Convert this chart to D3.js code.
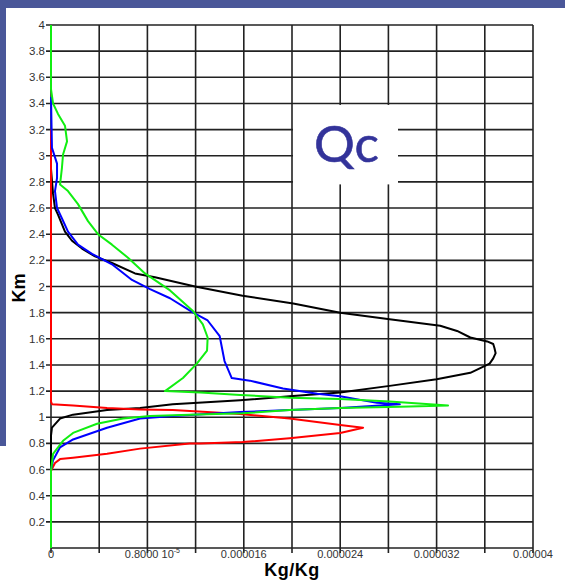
<!DOCTYPE html>
<meta charset="utf-8">
<script src="https://cdnjs.cloudflare.com/ajax/libs/d3/7.3.0/d3.min.js"></script>
<style>
  body { margin: 0; background: #fff; }
</style>
<div id="chart"></div>
<script>
    // values: [mixing ratio in 10^-6 Kg/Kg, height in km]
    const kmLabels = ["0.2", "0.4", "0.6", "0.8", "1", "1.2", "1.4", "1.6", "1.8", "2",
        "2.2", "2.4", "2.6", "2.8", "3", "3.2", "3.4", "3.6", "3.8", "4"];
    const xGrid = [0, 4, 8, 12, 16, 20, 24, 28, 32, 36, 40];
    const xLabelVals = [0, 8, 16, 24, 32, 40];
    const xLabels = ["0", "0.8000 10", "0.000016", "0.000024", "0.000032", "0.00004"];

    const blackQc = [[0, 0], [0, 0.6], [0, 0.86], [0.08, 0.92], [0.75, 0.99], [1.83, 1.02], [4.65, 1.055],
        [7.39, 1.07], [10.1, 1.10], [15.7, 1.13], [19.8, 1.16], [24.0, 1.19], [28.1, 1.24], [32.0, 1.29],
        [34.8, 1.34], [36.4, 1.41], [36.7, 1.45], [36.9, 1.49], [36.8, 1.53], [36.7, 1.56], [36.2, 1.58],
        [34.8, 1.61], [33.7, 1.66], [32.3, 1.70], [28.1, 1.75], [24.0, 1.80], [20.1, 1.87], [15.9, 1.93],
        [11.95, 2.00], [8.63, 2.07], [6.97, 2.10], [5.06, 2.18], [3.65, 2.23], [2.57, 2.29], [1.74, 2.35],
        [1.16, 2.42], [0.58, 2.55], [0.33, 2.60], [0.17, 2.71], [0.08, 2.81], [0, 2.90]];

    const redQc = [[0, 0.45], [0, 0.59], [0.33, 0.65], [0.75, 0.68], [1.83, 0.69], [4.65, 0.72], [7.39, 0.76],
        [11.5, 0.80], [12.4, 0.80], [15.9, 0.81], [19.8, 0.84], [24.0, 0.88], [25.9, 0.92], [24.0, 0.94],
        [19.8, 0.99], [15.7, 1.025], [12.95, 1.04], [10.1, 1.055], [7.39, 1.06], [4.65, 1.07], [1.83, 1.09],
        [0.08, 1.10], [0, 1.12], [0, 3.2]];

    const blueQc = [[0, 0], [0, 0.6], [0.17, 0.67], [0.75, 0.77], [1.83, 0.83], [4.65, 0.92], [7.39, 0.99],
        [10.1, 1.01], [15.7, 1.04], [19.8, 1.055], [24.0, 1.07], [28.95, 1.10], [27.05, 1.11], [24.0, 1.16],
        [22.1, 1.18], [19.25, 1.22], [16.5, 1.28], [15.0, 1.30], [14.4, 1.43], [14.0, 1.62], [13.0, 1.74],
        [11.8, 1.80], [9.88, 1.91], [8.22, 1.98], [6.72, 2.05], [5.06, 2.17], [3.4, 2.25], [2.24, 2.32],
        [1.41, 2.42], [0.91, 2.52], [0.5, 2.60], [0.33, 2.73], [0.5, 2.83], [0.5, 2.94], [0.08, 3.06], [0, 3.45]];

    const greenQc = [[0, 0], [0, 0.59], [0.17, 0.72], [1.0, 0.82], [1.83, 0.88], [3.82, 0.95], [5.98, 0.99],
        [8.22, 1.01], [11.5, 1.02], [15.9, 1.03], [19.8, 1.055], [24.0, 1.07], [28.95, 1.08], [32.95, 1.09],
        [28.1, 1.12], [24.0, 1.14], [19.8, 1.15], [15.7, 1.17], [12.4, 1.19], [9.46, 1.20], [10.95, 1.30],
        [12.1, 1.41], [12.95, 1.51], [13.0, 1.61], [12.6, 1.71], [11.8, 1.81], [9.88, 1.97], [7.8, 2.10],
        [6.39, 2.22], [5.06, 2.32], [3.9, 2.40], [3.07, 2.50], [2.24, 2.63], [1.41, 2.73], [0.75, 2.78],
        [0.91, 2.91], [1.0, 3.01], [1.33, 3.11], [1.16, 3.23], [0.58, 3.32], [0.17, 3.40], [0, 3.51], [0, 4]];

    const series = [
        { data: blackQc, color: "#000000" },
        { data: redQc, color: "#ff0000" },
        { data: blueQc, color: "#0000ff" },
        { data: greenQc, color: "#11ee11" }
    ];

    var W = 565, H = 583;
    var svg = d3.select("#chart").append("svg")
        .attr("width", W).attr("height", H);

    // slide frame
    svg.append("rect").attr("x", 0).attr("y", 0).attr("width", W).attr("height", 8).attr("fill", "#4a5799");
    svg.append("rect").attr("x", 0).attr("y", 0).attr("width", 6).attr("height", 446).attr("fill", "#4a5799");

    var x = d3.scaleLinear().domain([0, 40]).range([51, 533]);
    var y = d3.scaleLinear().domain([0, 4]).range([548, 25]);

    var grid = svg.append("g").attr("stroke", "#222").attr("stroke-width", 1.6);

    // horizontal grid + left ticks
    grid.selectAll("line.h")
        .data([0].concat(kmLabels.map(Number)))
        .join("line")
        .attr("x1", d => d === 0 ? x(0) : x(0) - 5)
        .attr("x2", x(40))
        .attr("y1", d => y(d)).attr("y2", d => y(d));

    // vertical grid + bottom ticks
    grid.selectAll("line.v")
        .data(xGrid)
        .join("line")
        .attr("x1", d => x(d)).attr("x2", d => x(d))
        .attr("y1", y(4)).attr("y2", y(0) + 5);

    // white box for the title
    svg.append("rect")
        .attr("x", x(20) + 1).attr("y", y(3.4) + 1.5)
        .attr("width", 105).attr("height", y(2.8) - y(3.4) + 1)
        .attr("fill", "#fff");

    svg.append("text")
        .attr("x", 314).attr("y", 162)
        .attr("font-family", "Lato")
        .attr("font-size", 51)
        .attr("fill", "#33339a")
        .attr("stroke", "#33339a").attr("stroke-width", 0.6)
        .text("Qc");

    // y labels
    svg.selectAll("text.yl")
        .data(kmLabels)
        .join("text")
        .attr("x", 45)
        .attr("y", d => y(+d) + 4)
        .attr("text-anchor", "end")
        .attr("font-family", "Liberation Sans")
        .attr("font-size", 11.5)
        .attr("fill", "#333")
        .text(d => d);

    // x labels
    var xl = svg.selectAll("text.xl")
        .data(xLabelVals)
        .join("text")
        .attr("x", d => x(d) + (d === 8 ? 5 : 0))
        .attr("y", 558)
        .attr("text-anchor", "middle")
        .attr("font-family", "Liberation Sans")
        .attr("font-size", 11)
        .attr("fill", "#333")
        .text((d, i) => xLabels[i]);
    xl.filter(d => d === 8).append("tspan")
        .attr("dy", -5).attr("font-size", 7).text("-5");

    // axis titles
    svg.append("text")
        .attr("transform", "translate(25,288) rotate(-90)")
        .attr("text-anchor", "middle")
        .attr("font-family", "Liberation Sans")
        .attr("font-weight", "bold")
        .attr("font-size", 18)
        .attr("fill", "#000")
        .text("Km");

    svg.append("text")
        .attr("x", 292).attr("y", 576)
        .attr("text-anchor", "middle")
        .attr("font-family", "Liberation Sans")
        .attr("font-weight", "bold")
        .attr("font-size", 18)
        .attr("letter-spacing", 0.5)
        .attr("fill", "#000")
        .text("Kg/Kg");

    var line = d3.line()
        .x(d => x(d[0]))
        .y(d => y(d[1]));

    svg.selectAll("path.qc")
        .data(series)
        .join("path")
        .attr("fill", "none")
        .attr("stroke", d => d.color)
        .attr("stroke-width", 2)
        .attr("stroke-linejoin", "round")
        .attr("d", d => line(d.data));
</script>
